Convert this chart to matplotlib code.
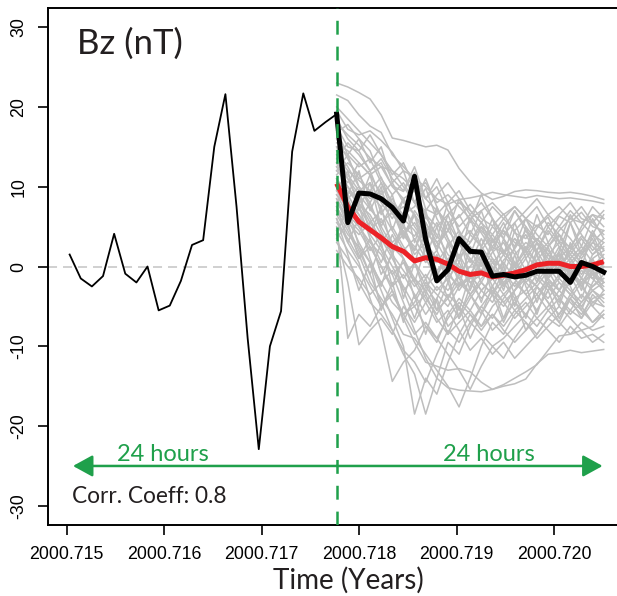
import numpy as np
import matplotlib.pyplot as plt

plt.rcParams['lines.scale_dashes'] = False

# hourly sampling, time in years
t_start = 2000.71503
dt = 1 / 8760.0
n_obs = 25
n_fc = 25

# observed Bz before the forecast start (thin black)
bz_past = [1.5, -1.5, -2.5, -1.2, 4.1, -0.9, -2.0, 0.0, -5.5, -4.9, -1.8, 2.7,
           3.3, 15.0, 21.6, 7.5, -9.0, -22.9, -10.0, -5.6, 14.4, 21.7, 17.0, 18.1, 19.1]

# observed Bz during the forecast window (thick black)
bz_actual = [19.1, 5.5, 9.2, 9.1, 8.5, 7.4, 5.7, 11.3, 3.4, -1.8, -0.4, 3.5, 1.9,
             1.8, -1.2, -1.0, -1.3, -1.1, -0.6, -0.6, -0.6, -2.0, 0.5, 0.0, -0.7]

# ensemble mean forecast (red)
bz_mean = [10.4, 7.5, 5.6, 4.6, 3.6, 2.5, 1.9, 0.7, 1.1, 0.9, 0.3, -0.6, -1.0,
           -0.8, -1.3, -1.1, -0.8, -0.4, 0.2, 0.4, 0.4, 0.0, 0.0, 0.2, 0.6]

# ensemble members (grey)
ensemble = [
    [23, 22.5, 21.8, 21.0, 19.0, 16.1, 15.8, 15.4, 15.0, 15.2, 14.6, 12.3, 10.6, 9.2, 8.4, 8.8, 9.4, 9.6, 9.5, 9.3, 9.2, 9.3, 9.1, 8.8, 8.4],
    [21.5, 20.8, 19.0, 17.6, 16.8, 14.0, 12.5, 11.0, 10.0, 8.5, 7.8, 8.4, 8.6, 8.9, 9.3, 9.0, 8.8, 8.6, 8.9, 8.7, 8.5, 8.6, 8.4, 8.2, 7.9],
    [19.5, 17.2, 16.5, 17.0, 15.8, 14.3, 12.0, 11.2, 8.5, 7.0, 5.5, 6.2, 7.8, 6.0, 5.1, 6.6, 4.2, 3.5, 5.2, 4.0, 6.3, 5.5, 6.8, 5.0, 4.5],
    [18.0, 16.5, 15.2, 13.6, 12.5, 10.1, 9.4, 11.8, 7.2, 6.5, 8.1, 4.2, 3.0, 5.6, 2.4, 1.8, 3.5, 2.0, 4.8, 6.2, 3.1, 2.5, 1.0, 3.0, 2.2],
    [16.8, 17.8, 16.0, 14.5, 11.0, 9.0, 10.5, 8.0, 5.5, 3.0, 4.5, 2.8, 1.0, -0.5, 1.8, 3.0, 0.5, -1.0, 0.8, 2.5, 4.0, 1.5, 0.0, -1.5, 0.5],
    [15.0, 14.0, 12.5, 13.5, 10.5, 8.0, 6.5, 7.5, 9.8, 6.0, 3.5, 1.2, 2.5, 0.5, -1.5, 0.8, 2.2, 4.5, 3.0, 1.0, -0.5, 2.0, 3.8, 2.5, 1.0],
    [14.0, 12.0, 10.8, 9.5, 11.2, 7.5, 5.0, 3.8, 6.2, 4.0, 1.5, 0.0, -2.0, -1.0, 1.0, -0.5, -2.5, -1.0, 0.5, -1.8, -3.0, -1.0, 0.8, -0.5, -2.0],
    [12.5, 11.0, 9.0, 7.2, 5.5, 6.8, 4.0, 2.5, 0.5, 2.0, -1.0, -2.5, -1.5, 0.5, -0.5, 1.5, 3.5, 1.8, -0.5, 0.2, 1.8, -0.8, -2.2, -1.0, 0.0],
    [11.5, 13.0, 11.5, 9.0, 7.5, 8.5, 6.0, 4.5, 2.0, -0.5, 0.8, 3.5, 6.0, 4.2, 2.0, 4.8, 7.0, 5.0, 3.2, 5.5, 4.0, 2.2, 5.0, 7.5, 6.0],
    [10.5, 9.5, 7.8, 6.5, 4.0, 2.5, 1.0, -1.5, -3.0, -5.5, -4.0, -2.0, -3.5, -1.5, 0.0, -2.0, -4.0, -3.0, -1.0, -2.5, -3.8, -2.0, -0.5, -1.5, -3.0],
    [10.0, 8.0, 6.5, 4.0, 2.0, -1.0, -4.5, -8.0, -11.5, -14.0, -15.2, -15.5, -15.6, -15.7, -15.4, -14.8, -14.0, -13.2, -12.3, -10.5, -8.7, -8.5, -8.0, -7.5, -6.0],
    [9.0, 6.5, 5.0, 2.5, 0.0, -3.0, -6.5, -9.5, -12.0, -12.5, -13.0, -12.8, -13.2, -14.5, -15.4, -15.0, -14.7, -14.1, -12.2, -11.0, -10.8, -10.5, -10.8, -10.6, -10.4],
    [8.5, 6.0, 3.0, 0.5, -3.0, -6.5, -10.0, -18.5, -14.0, -16.0, -12.0, -8.5, -6.0, -7.5, -5.0, -3.5, -5.5, -4.0, -2.5, -4.5, -6.0, -3.5, -5.0, -7.0, -5.5],
    [7.5, 5.0, 2.0, -1.0, -4.5, -8.0, -11.0, -13.5, -18.5, -14.0, -9.5, -11.0, -7.5, -5.0, -6.5, -4.0, -2.0, -3.5, -5.5, -3.0, -1.5, -3.0, -4.5, -2.5, -1.5],
    [7.0, 4.5, 1.5, -2.0, -4.0, -6.0, -8.5, -9.0, -11.0, -13.0, -15.0, -17.6, -14.0, -10.0, -7.0, -8.5, -6.0, -4.5, -6.5, -5.0, -3.0, -4.5, -6.0, -4.0, -3.5],
    [6.0, 3.0, 0.5, -4.0, -8.0, -14.4, -12.0, -10.5, -7.5, -9.5, -6.0, -4.0, -5.5, -3.0, -1.5, -3.5, -2.0, 0.0, -1.5, -3.0, -1.0, 0.5, -1.5, -2.5, -1.0],
    [5.0, -9.0, -6.0, -7.5, -5.0, -3.0, -6.0, -4.5, -2.0, -3.5, -5.0, -2.5, -1.0, -3.0, -4.5, -2.0, -0.5, -2.0, -3.5, -1.5, 0.5, -1.0, -2.5, -0.5, 1.0],
    [4.0, -2.0, -9.8, -8.0, -6.5, -8.5, -5.0, -7.0, -4.5, -2.5, -4.0, -6.5, -4.0, -2.0, -3.5, -5.0, -3.0, -1.5, -2.5, -4.0, -2.0, -3.5, -5.0, -3.0, -2.0],
    [3.0, 1.0, -2.0, -4.5, -6.0, -8.0, -10.5, -12.0, -14.5, -11.0, -8.0, -9.5, -7.0, -8.5, -10.0, -9.0, -7.5, -6.0, -7.5, -5.5, -7.0, -8.5, -7.0, -8.0, -7.5],
    [2.0, 0.0, -1.5, -3.5, -2.0, -4.5, -6.0, -5.0, -7.5, -9.0, -11.0, -13.0, -15.4, -12.5, -10.0, -11.5, -9.0, -7.0, -8.5, -6.5, -5.0, -6.5, -8.0, -9.5, -8.5],
    [12.0, 10.5, 13.0, 11.5, 9.0, 10.5, 8.0, 6.5, 4.0, 7.0, 5.5, 3.0, 4.5, 2.5, 5.0, 3.5, 1.5, 3.0, 2.0, 4.5, 2.5, 0.5, 2.0, 4.0, 3.0],
    [13.5, 15.5, 14.0, 12.0, 13.5, 11.0, 9.5, 12.5, 8.5, 10.0, 7.0, 5.0, 6.5, 8.0, 6.0, 4.0, 5.5, 7.0, 8.5, 6.5, 5.0, 7.0, 5.5, 4.0, 6.5],
    [17.5, 15.0, 14.5, 12.0, 13.0, 10.0, 8.5, 9.5, 6.5, 5.0, 6.5, 8.0, 7.0, 5.5, 7.5, 6.0, 4.5, 6.0, 7.5, 5.0, 6.5, 8.0, 6.0, 5.5, 7.0],
    [20.0, 18.5, 17.0, 15.5, 14.0, 12.0, 11.0, 9.5, 10.5, 8.0, 9.0, 7.5, 6.0, 7.0, 8.0, 6.5, 7.5, 6.0, 5.0, 6.5, 7.5, 6.0, 5.5, 6.5, 6.0],
    [9.5, 7.0, 8.5, 6.0, 3.0, 5.0, 2.5, 0.5, -1.5, 1.0, -0.5, -3.0, -1.0, 1.5, 0.0, -2.5, -1.0, 1.0, 3.0, 1.5, -0.5, 1.0, 2.5, 0.5, -1.0],
    [8.0, 10.0, 8.0, 5.5, 7.0, 4.5, 2.0, 3.5, 1.0, -1.5, -3.0, -1.0, 1.0, -2.0, -3.5, -1.5, 0.5, -1.0, -2.5, -0.5, 1.5, -0.5, -2.0, 0.0, 1.5],
    [11.0, 9.0, 6.5, 4.5, 6.0, 3.0, 4.5, 1.5, 3.0, 0.5, 2.5, 4.5, 2.0, 0.0, 2.5, 4.5, 2.5, 4.0, 1.5, 3.0, 5.0, 3.5, 1.5, 3.0, 4.5],
    [6.5, 4.0, 2.5, 0.5, -2.0, -0.5, -3.0, -1.5, -4.0, -6.0, -3.5, -5.0, -7.0, -5.0, -3.0, -4.5, -6.5, -5.0, -3.5, -5.5, -4.0, -6.0, -4.5, -3.0, -4.5],
    [5.5, 3.5, 1.0, 2.5, 0.0, -2.5, -1.0, -3.5, -6.0, -4.0, -7.5, -6.0, -3.5, -5.5, -8.0, -6.5, -4.5, -6.0, -4.0, -2.0, -4.0, -5.5, -3.5, -5.0, -6.5],
    [14.5, 12.5, 10.0, 8.5, 9.5, 6.5, 7.5, 5.0, 3.0, 5.5, 3.0, 1.0, 3.0, 5.0, 3.5, 1.5, -0.5, 1.5, 3.5, 2.0, 0.0, 1.5, 3.5, 1.5, 2.5],
    [16.0, 13.5, 11.0, 12.0, 8.5, 7.0, 4.0, 5.5, 3.0, 1.0, -1.0, 1.5, -1.0, -3.0, -1.5, 0.5, -1.5, -3.5, -2.0, 0.0, -2.0, -3.5, -1.5, -3.0, -4.0],
    [10.5, 8.5, 10.0, 7.5, 5.0, 2.5, 4.0, 2.0, 5.5, 3.0, 0.5, -1.5, 0.0, 2.0, 4.0, 2.0, 0.0, 2.5, 0.5, -1.5, 0.0, 2.0, 0.5, -1.0, -2.5],
    [7.0, 5.5, 4.0, 5.5, 3.5, 1.0, -1.5, 0.5, -2.5, -1.0, 1.0, -1.5, -3.5, -2.0, 0.5, 2.0, 0.0, -2.0, -0.5, 1.5, 3.0, 1.0, -1.0, 1.0, 2.0],
    [12.5, 10.0, 7.5, 5.0, 2.5, 0.0, -2.5, -5.0, -3.5, -6.5, -8.5, -7.0, -5.5, -7.5, -6.0, -8.0, -9.5, -8.0, -6.5, -8.0, -9.5, -7.5, -9.0, -8.5, -9.5],
    [18.5, 16.0, 14.5, 16.5, 14.0, 11.5, 13.0, 10.0, 8.5, 11.0, 8.0, 9.5, 7.0, 5.5, 4.0, 6.0, 7.5, 6.0, 4.0, 2.5, 4.5, 6.0, 7.5, 5.5, 4.0],
    [9.0, 7.5, 5.0, 3.0, 1.5, -1.0, 0.5, -2.0, -4.5, -7.0, -5.5, -8.0, -10.5, -9.0, -11.0, -9.5, -11.5, -10.0, -8.5, -6.5, -7.5, -5.5, -6.5, -4.5, -5.0],
    [4.5, 2.0, 0.0, -2.5, -5.0, -3.5, -6.0, -8.5, -7.0, -9.0, -6.5, -4.5, -6.0, -8.0, -6.0, -7.5, -5.5, -7.0, -9.0, -7.5, -6.0, -4.0, -5.5, -7.0, -6.0],
    [15.5, 14.5, 13.0, 11.5, 12.5, 12.0, 10.0, 8.0, 7.0, 9.0, 10.5, 8.5, 6.5, 4.5, 3.0, 4.5, 3.0, 2.0, 3.5, 1.5, 0.5, -1.0, 0.5, -1.5, 0.0],
    [13.0, 11.5, 9.5, 10.5, 8.0, 6.0, 8.5, 6.5, 4.5, 2.5, 4.5, 6.5, 4.0, 2.5, 0.5, -1.5, 0.0, 2.0, 0.5, -1.0, 1.0, 2.5, 4.5, 6.5, 5.0],
    [8.0, 6.0, 4.5, 2.0, 4.0, 1.5, -0.5, -2.5, -1.0, -3.0, -1.5, 0.5, -2.0, -4.0, -2.5, -4.5, -3.0, -1.0, 0.5, -1.5, -3.0, -1.0, -2.5, -4.5, -3.5],
    [11.0, 6.0, 9.5, 4.0, 7.5, 2.0, 5.5, 0.5, 4.5, -1.5, 3.0, -2.5, 2.5, -1.0, 3.5, 0.0, 4.5, 1.0, -2.0, 2.5, -1.5, 3.0, 0.0, 4.0, 1.0],
    [9.5, 12.0, 7.0, 10.5, 5.0, 8.0, 3.5, 6.5, 1.0, 5.0, 0.5, 4.0, -1.5, 2.5, 6.0, 1.5, 5.5, 2.0, 6.5, 3.0, 0.5, 5.5, 2.5, 6.0, 3.5],
    [7.5, 3.0, 6.0, 1.0, -2.5, 2.0, -4.0, 0.5, -3.5, 1.5, -2.0, -5.5, -1.0, -4.5, 0.0, -3.0, 1.5, -2.5, -6.0, -2.0, -5.0, -1.0, -4.0, -0.5, -3.0],
    [13.0, 9.0, 12.0, 7.0, 10.0, 4.5, 8.5, 3.0, 7.0, 2.0, 5.5, 1.0, 6.0, 2.5, -1.0, 3.5, 0.0, 5.0, 1.5, -1.5, 2.0, 5.5, 1.5, 3.5, -0.5],
    [6.0, 1.5, -3.0, 0.5, -5.5, -2.0, -7.0, -3.5, -8.5, -4.0, -1.0, -6.5, -2.5, 1.0, -3.5, -0.5, -5.0, -1.5, 1.5, -2.5, -4.5, 0.0, -3.0, 1.0, -2.0],
    [15.0, 11.0, 8.0, 11.5, 6.5, 9.0, 4.0, 6.5, 2.5, 7.5, 3.5, 0.5, 4.0, 7.0, 3.0, 5.5, 2.0, -0.5, 3.0, 0.0, 2.5, -1.5, 1.5, 4.5, 2.0],
    [4.0, 7.5, 2.5, -1.0, 3.0, -2.5, 1.0, -4.0, -1.5, -5.5, -2.0, 1.5, -3.0, 0.5, -2.5, -6.5, -3.0, -0.5, -4.5, -1.0, 1.5, -2.5, -5.5, -2.0, 0.5],
    [10.0, 8.5, 5.5, 8.0, 4.5, 1.5, 5.0, 2.0, 6.5, 3.5, 8.0, 4.5, 1.5, 5.0, 2.0, -1.0, 2.5, 6.0, 3.0, 0.5, 4.0, 1.0, -1.5, 1.5, 3.0],
    [17.0, 14.0, 16.0, 13.0, 15.0, 10.5, 12.0, 8.0, 11.0, 7.5, 4.5, 8.5, 5.5, 9.0, 6.0, 3.5, 7.0, 4.5, 2.0, 5.0, 3.0, 6.5, 4.0, 2.0, 3.5],
    [3.5, 5.5, 1.0, 3.5, -1.0, 1.5, -3.0, -6.5, -2.5, -4.5, -8.5, -5.0, -9.0, -6.0, -3.5, -7.0, -4.0, -8.0, -5.5, -3.0, -6.5, -4.0, -2.0, -5.0, -3.0],
    [12.0, 14.0, 10.0, 8.0, 10.5, 7.0, 3.5, 7.0, 5.0, 2.0, 6.5, 3.0, 0.5, 3.5, 1.0, -2.5, 0.5, -1.5, 2.0, -0.5, -3.0, 0.0, 2.0, -1.0, -2.0],
    [8.5, 5.0, 7.5, 3.5, 0.5, 4.0, 1.0, -2.0, 2.5, -0.5, -4.0, -1.0, -3.5, -6.0, -2.5, 0.0, -3.5, -6.5, -2.5, -4.5, -7.0, -4.0, -6.5, -3.5, -5.0],
]

t_past = t_start + dt * np.arange(n_obs)
t0 = t_past[-1]
t_fc = t0 + dt * np.arange(n_fc)

green = '#1fa04b'
ink = '#231f20'
myriad = ['Lato', 'DejaVu Sans']

fig = plt.figure(figsize=(6.17, 5.96), dpi=100)
W, H = 617, 596
ax = fig.add_axes([48 / W, (H - 525) / H, (625 - 48) / W, (525 - 8) / H])

ax.axhline(0, color='#c4c4c4', lw=1.1, ls=(0, (6.5, 4.3)), zorder=1)

for member in ensemble:
    ax.plot(t_fc, member, color='#bebebe', lw=1.1, zorder=2)

ax.plot(t_past, bz_past, color='black', lw=1.3, zorder=3)
ax.plot(t_fc, bz_mean, color='#ec2227', lw=3.6, zorder=4, solid_capstyle='butt')
ax.plot(t_fc, bz_actual, color='black', lw=3.6, zorder=5)

ax.axvline(t0, color=green, lw=1.8, ls=(0, (10, 8.6)), zorder=6)

arrow_y = -25
for tip in (t_past[0] + 0.3 * dt, t_fc[-1] - 0.1 * dt):
    ax.annotate('', xy=(tip, arrow_y), xytext=(t0, arrow_y),
                arrowprops=dict(arrowstyle='-|>,head_length=0.6,head_width=0.33',
                                color=green, lw=1.8, mutation_scale=20,
                                shrinkA=0, shrinkB=0), zorder=6)
ax.text(2000.715988, -24.4, '24 hours', color=green,
        fontsize=17, family=myriad, ha='center', va='baseline')
ax.text(2000.719333, -24.4, '24 hours', color=green,
        fontsize=17, family=myriad, ha='center', va='baseline')

ax.text(2000.715106, 26.6, 'Bz (nT)', color=ink, fontsize=25, family=myriad,
        ha='left', va='baseline')
ax.text(2000.715054, -29.6, 'Corr. Coeff: 0.8', color=ink, fontsize=16.3,
        family=myriad, ha='left', va='baseline')

ax.set_xlim(2000.714808, 2000.720728)
ax.set_ylim(-32.4, 32.4)
ax.set_xticks([2000.715, 2000.716, 2000.717, 2000.718, 2000.719, 2000.720])
ax.set_xticklabels(['2000.715', '2000.716', '2000.717', '2000.718', '2000.719', '2000.720'],
                   family='Liberation Sans', fontsize=12.8)
ax.set_yticks([-30, -20, -10, 0, 10, 20, 30])
ax.set_yticklabels(['-30', '-20', '-10', '0', '10', '20', '30'],
                   family='Liberation Sans', fontsize=12.8, rotation=90, va='center')
ax.tick_params(length=7, width=1.2, pad=8)
for s in ax.spines.values():
    s.set_linewidth(1.4)

fig.text(348 / W, (H - 589) / H, 'Time (Years)', color=ink, fontsize=20,
         family=myriad, ha='center', va='baseline')

fig.savefig('out.png', dpi=100)
